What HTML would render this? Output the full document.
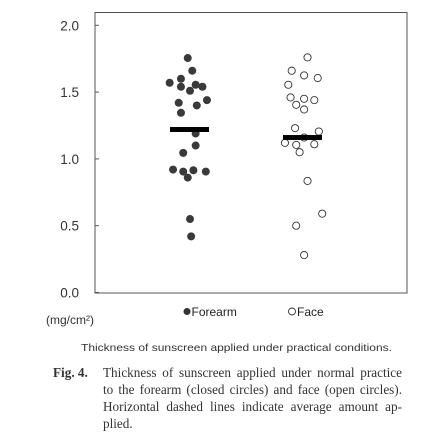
<!DOCTYPE html>
<html><head><meta charset="utf-8"><style>
body{margin:0;background:#fff;width:427px;height:448px;overflow:hidden;position:relative}
.fig{position:absolute;font-family:"Liberation Serif",serif;font-size:13.2px;color:#333;line-height:17px}
.ln{text-align:justify;text-align-last:justify;white-space:nowrap}
</style></head><body>
<svg id="chart" width="427" height="448" style="position:absolute;left:0;top:0" font-family="Liberation Sans, sans-serif">
<rect x="95" y="12.5" width="312" height="280.5" fill="none" stroke="#555" stroke-width="1"/>
<g id="yaxis"></g>
<g id="marks"></g>
<g font-size="12" fill="#222">
<circle cx="187" cy="311.5" r="3.5" fill="#333"/>
<text x="191.5" y="316">Forearm</text>
<circle cx="292" cy="311.5" r="3.5" fill="#fff" stroke="#333" stroke-width="0.9"/>
<text x="297" y="316">Face</text>
</g>
<text x="46" y="324" font-size="12" fill="#333">(mg/cm²)</text>
<text x="81" y="351" font-size="10.5" fill="#333" textLength="311" lengthAdjust="spacingAndGlyphs">Thickness of sunscreen applied under practical conditions.</text>
</svg>
<div class="fig" style="left:53px;top:364px;width:349px">
<b style="position:absolute;left:0;top:0">Fig. 4.</b>
<div style="margin-left:50px">
<div class="ln">Thickness of sunscreen applied under normal practice</div>
<div class="ln">to the forearm (closed circles) and face (open circles).</div>
<div class="ln">Horizontal dashed lines indicate average amount ap-</div>
<div>plied.</div>
</div>
</div>
<script>
const yTicks=[0,0.5,1.0,1.5,2.0];
const yTickLabels=["0.0","0.5","1.0","1.5","2.0"];
const categories=["Forearm","Face"];
const forearmValues=[1.755,1.66,1.57,1.60,1.54,1.51,1.555,1.54,1.42,1.44,1.40,1.345,1.19,1.10,1.045,0.92,0.905,0.915,0.905,0.86,0.55,0.42];
const forearmJitter=[-0.02,0.02,-0.18,-0.08,-0.08,0.0,0.05,0.11,-0.10,0.15,0.06,-0.08,0.05,0.05,-0.06,-0.15,-0.06,0.03,0.14,-0.02,0.0,0.01];
const faceValues=[1.76,1.66,1.625,1.605,1.555,1.46,1.45,1.44,1.405,1.37,1.23,1.205,1.16,1.12,1.105,1.11,1.05,0.835,0.59,0.50,0.28];
const faceJitter=[0.04,-0.10,0.01,0.13,-0.13,-0.11,0.01,0.10,-0.06,0.01,-0.07,0.14,0.01,-0.16,-0.06,0.10,-0.03,0.04,0.17,-0.06,0.01];
const means=[1.22,1.16];
const NS="http://www.w3.org/2000/svg";
const y=v=>292.5-v*133.6;
const x=p=>77+113*p;
function mk(t,a){const e=document.createElementNS(NS,t);for(const k in a)e.setAttribute(k,a[k]);return e;}
const ya=document.getElementById('yaxis');
yTicks.forEach((v,i)=>{
 const l=mk('line',{x1:95,x2:99,y1:y(v),y2:y(v),stroke:'#555'});
 
 
 ya.appendChild(l);
 const t=mk('text',{x:79,y:y(v)+5,'text-anchor':'end','font-size':'13.5',fill:'#333'});
 t.textContent=yTickLabels[i];
 
 
 ya.appendChild(t);
});
const g=document.getElementById('marks');
forearmValues.forEach((v,i)=>{
 const c=mk('circle',{cx:x(1+forearmJitter[i]),cy:y(v),r:4,fill:'#3a3a3a'});
 
 
 g.appendChild(c);
});
faceValues.forEach((v,i)=>{
 const c=mk('circle',{cx:x(2+faceJitter[i]),cy:y(v),r:3.6,fill:'#fff',stroke:'#333','stroke-width':0.9});
 
 
 g.appendChild(c);
});
means.forEach((m,i)=>{
 const r=mk('rect',{x:x(i+1)-20,y:y(m)-2.5,width:39,height:5,fill:'#000'});
 
 
 g.appendChild(r);
});
</script>
</body></html>
